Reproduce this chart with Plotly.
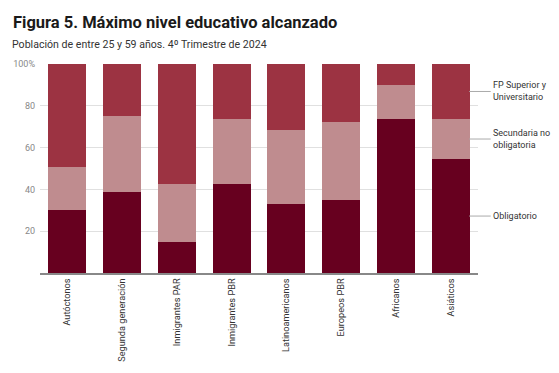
import plotly.graph_objects as go

categories = ["Autóctonos", "Segunda generación", "Inmigrantes PAR", "Inmigrantes PBR",
              "Latinoamericanos", "Europeos PBR", "Africanos", "Asiáticos"]
obligatorio = [30.1, 38.8, 14.8, 42.6, 33.0, 34.9, 73.7, 54.5]
secundaria = [20.6, 36.3, 27.8, 31.1, 35.4, 37.3, 16.3, 19.2]
fp_superior = [49.3, 24.9, 57.4, 26.3, 31.6, 27.8, 10.0, 26.3]
series_names = ["Obligatorio", "Secundaria no<br>obligatoria", "FP Superior y<br>Universitario"]
series_colors = ["#67001f", "#bf8c8f", "#9c3342"]
y_tickvals = [20, 40, 60, 80, 100]
y_ticktext = ["20", "40", "60", "80", "100%"]

fig = go.Figure()
for vals, name, col in zip([obligatorio, secundaria, fp_superior], series_names, series_colors):
    fig.add_trace(go.Bar(x=list(range(len(categories))), y=vals, name=name,
                         marker=dict(color=col, line=dict(width=0)), width=0.69))

# page body has an 8px margin: figure is 551x365 placed at (8, 8)
fig.update_layout(
    barmode="stack",
    width=551, height=365, autosize=False,
    margin=dict(l=31.5, r=80.5, t=56, b=100, pad=0, autoexpand=False),
    plot_bgcolor="white", paper_bgcolor="white",
    showlegend=False,
    font=dict(family="Roboto", size=9, color="#333"),
    xaxis=dict(tickmode="array", tickvals=list(range(len(categories))), ticktext=categories,
               tickangle=-90, range=[-0.5, 7.5], showgrid=False, showline=True,
               linecolor="#888", linewidth=1.5, ticks="", automargin=False,
               tickfont=dict(family="Roboto", size=9.2, color="#333")),
    yaxis=dict(range=[0, 100], tickvals=y_tickvals, ticktext=y_ticktext, showgrid=True,
               gridcolor="#e0e0e0", gridwidth=1, zeroline=False, ticks="", automargin=False,
               tickfont=dict(family="Roboto", size=9, color="#888"), ticklabelstandoff=4),
)

# right-side labels for the last bar
last = len(categories) - 1
bottoms = [0, obligatorio[last], obligatorio[last] + secundaria[last]]
tops = [obligatorio[last], obligatorio[last] + secundaria[last], 100]
for i, name in enumerate(series_names):
    mid = (bottoms[i] + tops[i]) / 2
    fig.add_shape(type="line", xref="paper", yref="y", x0=0.98, x1=1.029, y0=mid, y1=mid,
                  line=dict(color="#aaa", width=1))
    fig.add_annotation(xref="paper", yref="y", x=1.03, y=mid, text=name, showarrow=False,
                       xanchor="left", yanchor="middle", align="left",
                       font=dict(family="Roboto", size=9, color="#333"))

fig.add_annotation(xref="paper", yref="paper", x=0, y=1 + (64 - 11) / 209,
                   text="<b>Figura 5. Máximo nivel educativo alcanzado</b>", showarrow=False,
                   xanchor="left", yanchor="top", xshift=10 - 39.5,
                   font=dict(family="Roboto", size=16.5, color="#1a1a1a"))
fig.add_annotation(xref="paper", yref="paper", x=0, y=1 + (64 - 36) / 209,
                   text="Población de entre 25 y 59 años. 4º Trimestre de 2024", showarrow=False,
                   xanchor="left", yanchor="top", xshift=9 - 39.5,
                   font=dict(family="Roboto", size=10.6, color="#333"))

fig.write_html("out.html")
